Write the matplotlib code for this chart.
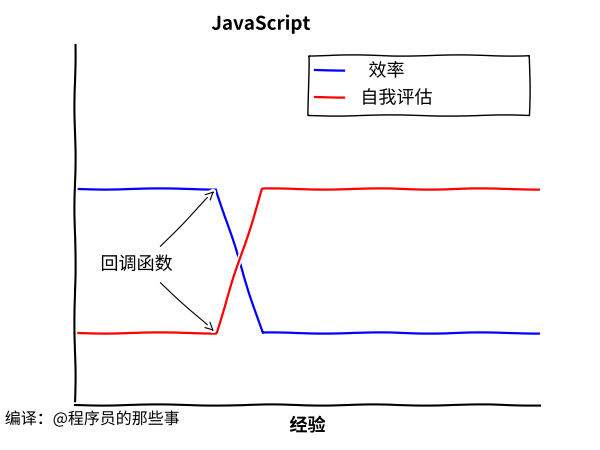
import matplotlib
matplotlib.use("Agg")
import matplotlib.pyplot as plt

x = [0, 3, 4, 10]
efficiency = [0.6, 0.6, 0.2, 0.2]
self_eval = [0.2, 0.2, 0.6, 0.6]
labels = ["  效率", "自我评估"]
title = "JavaScript"
xlabel = "经验"
note = "编译：@程序员的那些事"
annot = "回调函数"

plt.xkcd(scale=0.6, length=120, randomness=2)
plt.rcParams['font.family'] = ['Noto Sans CJK SC', 'DejaVu Sans']

fig = plt.figure(figsize=(6, 4.5), dpi=100)
ax = fig.add_axes([0.125, 0.1, 0.775, 0.8])
ax.spines['right'].set_visible(False)
ax.spines['top'].set_visible(False)
ax.set_xticks([])
ax.set_yticks([])
ax.set_xlim(-0.05, 10)
ax.set_ylim(0, 1)

ax.plot(x, efficiency, color='blue', lw=1.6, label=labels[0])
ax.plot(x, self_eval, color='red', lw=1.6, label=labels[1])

ax.text(0.5, 0.39, annot, fontsize=13, va='center')
ax.annotate('', xy=(3, 0.6), xytext=(1.75, 0.435),
            arrowprops=dict(arrowstyle='->', color='black', lw=0.8))
ax.annotate('', xy=(3, 0.2), xytext=(1.75, 0.345),
            arrowprops=dict(arrowstyle='->', color='black', lw=0.8))

ax.set_title(title, fontsize=13.5, fontweight='bold', pad=11, x=0.4)
ax.set_xlabel(xlabel, fontsize=13, fontweight='bold', labelpad=8)
leg = ax.legend(loc='upper left', fontsize=13, fancybox=False, framealpha=1,
                edgecolor='black', handlelength=1.6, handletextpad=0.9,
                borderpad=0.4, mode='expand', borderaxespad=0,
                bbox_to_anchor=(0.501, 0.806, 0.476, 0.166))
leg.get_frame().set_linewidth(1.0)
fig.text(0.008, 0.068, note, fontsize=11.5, va='center')

fig.savefig('out.png', dpi=100)
